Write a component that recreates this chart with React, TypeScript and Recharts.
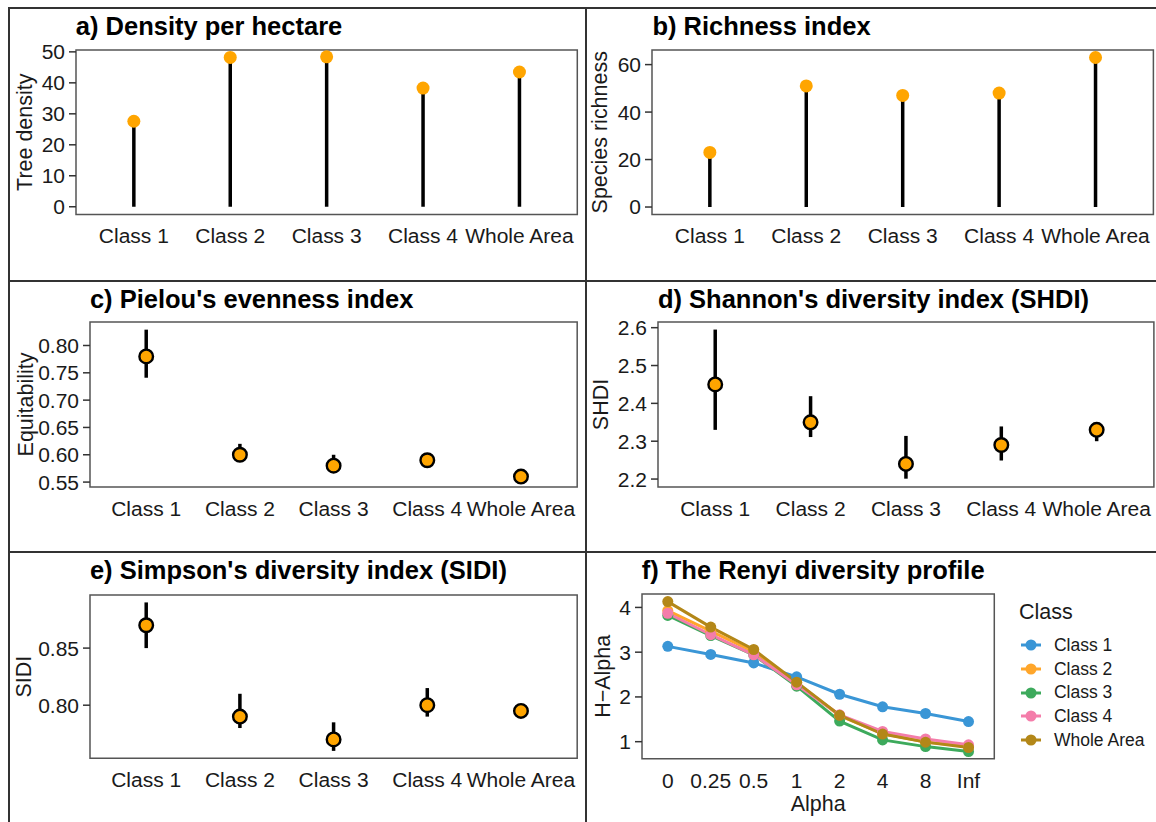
import React from "react";
import {
  ComposedChart,
  Scatter,
  ErrorBar,
  Line,
  XAxis,
  YAxis,
  ReferenceArea,
  Legend,
} from "recharts";

const CLASSES = ["Class 1", "Class 2", "Class 3", "Class 4", "Whole Area"];

const DENSITY = [27.6, 48.2, 48.4, 38.3, 43.5];
const RICHNESS = [23, 51, 47, 48, 63];

const EVEN_MEAN = [0.78, 0.6, 0.58, 0.59, 0.56];
const EVEN_LOW = [0.741, 0.59, 0.568, 0.585, 0.554];
const EVEN_HIGH = [0.829, 0.62, 0.6, 0.595, 0.566];

const SHDI_MEAN = [2.45, 2.35, 2.24, 2.29, 2.33];
const SHDI_LOW = [2.33, 2.311, 2.201, 2.249, 2.3];
const SHDI_HIGH = [2.595, 2.419, 2.314, 2.339, 2.342];

const SIDI_MEAN = [0.87, 0.79, 0.77, 0.8, 0.795];
const SIDI_LOW = [0.85, 0.78, 0.76, 0.79, 0.79];
const SIDI_HIGH = [0.89, 0.81, 0.785, 0.815, 0.8];

const ALPHAS = ["0", "0.25", "0.5", "1", "2", "4", "8", "Inf"];
const RENYI_C1 = [3.13, 2.95, 2.76, 2.45, 2.06, 1.78, 1.63, 1.45];
const RENYI_C2 = [3.93, 3.47, 3.01, 2.31, 1.58, 1.18, 0.99, 0.89];
const RENYI_C3 = [3.82, 3.37, 2.94, 2.24, 1.46, 1.04, 0.89, 0.78];
const RENYI_C4 = [3.87, 3.39, 2.94, 2.27, 1.6, 1.23, 1.06, 0.93];
const RENYI_WA = [4.13, 3.56, 3.06, 2.33, 1.59, 1.17, 0.99, 0.87];

const FONT = '"Liberation Sans", Arial, Helvetica, sans-serif';
const INK = "#1a1a1a";
const ORANGE = "#FFA500";
const FRAME = "#555555";
const SERIES_COLORS = ["#3A96D6", "#FFA62B", "#3DAA5C", "#F47DAA", "#B38718"];

type Box = { x0: number; x1: number; y0: number; y1: number };

const lollipopRows = (vals: number[]) =>
  vals.map((v, k) => ({ i: k + 1, v, err: [v, 0] }));

const intervalRows = (mean: number[], low: number[], high: number[]) =>
  mean.map((v, k) => ({ i: k + 1, v, err: [v - low[k], high[k] - v] }));

const renyiRows = ALPHAS.map((a, k) => ({
  i: k + 1,
  c1: RENYI_C1[k],
  c2: RENYI_C2[k],
  c3: RENYI_C3[k],
  c4: RENYI_C4[k],
  wa: RENYI_WA[k],
}));

function Title({ x, baseline, text }: { x: number; baseline: number; text: string }) {
  return (
    <div
      style={{
        position: "absolute",
        left: x,
        top: baseline - 21.6,
        fontFamily: FONT,
        fontWeight: 700,
        fontSize: 25.5,
        lineHeight: 1,
        color: "#000",
        whiteSpace: "nowrap",
      }}
    >
      {text}
    </div>
  );
}

const rotatedTitle = (text: string, x: number, y: number) => () =>
  (
    <text
      x={x}
      y={y}
      transform={`rotate(-90 ${x} ${y})`}
      textAnchor="middle"
      dominantBaseline="central"
      fontFamily={FONT}
      fontSize={21.5}
      fill={INK}
    >
      {text}
    </text>
  );

const tickStyle = { fontSize: 21, fill: INK, fontFamily: FONT };

interface ClassPanelProps {
  box: Box;
  title: string;
  titleBaseline: number;
  yTitle: string;
  yTitleX: number;
  domain: [number, number];
  ticks: number[];
  digits: number;
  rows: { i: number; v: number; err: number[] }[];
  outlined: boolean;
}

function ClassPanel(p: ClassPanelProps) {
  const yw = 80;
  const left = p.box.x0 - yw;
  const top = p.box.y0 - 10;
  const width = yw + (p.box.x1 - p.box.x0) + 4;
  const height = 10 + (p.box.y1 - p.box.y0) + 50;
  const midY = (p.box.y0 + p.box.y1) / 2 - top;

  return (
    <>
      <Title x={p.box.x0} baseline={p.titleBaseline} text={p.title} />
      <div style={{ position: "absolute", left, top }}>
        <ComposedChart
          width={width}
          height={height}
          data={p.rows}
          margin={{ top: 10, right: 4, bottom: 0, left: 0 }}
        >
          <XAxis
            type="number"
            dataKey="i"
            domain={[0.4, 5.6]}
            ticks={[1, 2, 3, 4, 5]}
            interval={0}
            allowDataOverflow
            tickFormatter={(v) => CLASSES[v - 1]}
            tickLine={false}
            axisLine={false}
            tickSize={0}
            tickMargin={14}
            height={50}
            tick={tickStyle}
          />
          <YAxis
            type="number"
            domain={p.domain}
            ticks={p.ticks}
            interval={0}
            allowDataOverflow
            width={yw}
            tickFormatter={(v) => Number(v).toFixed(p.digits)}
            axisLine={false}
            tickLine={{ stroke: "#333", strokeWidth: 1.5 }}
            tickSize={7}
            tickMargin={4}
            tick={tickStyle}
            label={{ content: rotatedTitle(p.yTitle, p.yTitleX - left, midY) }}
          />
          <ReferenceArea
            x1={0.4}
            x2={5.6}
            y1={p.domain[0]}
            y2={p.domain[1]}
            fill="none"
            stroke={FRAME}
            strokeWidth={1.5}
            fillOpacity={0}
          />
          <Scatter
            dataKey="v"
            isAnimationActive={false}
            shape={(s: any) =>
              p.outlined ? (
                <circle cx={s.cx} cy={s.cy} r={6.8} fill={ORANGE} stroke="#000" strokeWidth={2.4} />
              ) : (
                <circle cx={s.cx} cy={s.cy} r={6.5} fill={ORANGE} />
              )
            }
          >
            <ErrorBar
              dataKey="err"
              direction="y"
              width={0}
              stroke="#000"
              strokeWidth={3.5}
              isAnimationActive={false}
            />
          </Scatter>
        </ComposedChart>
      </div>
    </>
  );
}

const renderLegend = (props: any) => {
  const items = props.payload ?? [];
  return (
    <div style={{ fontFamily: FONT, color: INK }}>
      <div style={{ fontSize: 21.5, lineHeight: "24px", height: 24, marginBottom: 9.5 }}>Class</div>
      {items.map((it: any) => (
        <div key={it.value} style={{ display: "flex", alignItems: "center", height: 23.7 }}>
          <svg width={20} height={14} style={{ marginLeft: 2, marginRight: 13 }}>
            <line x1={0} y1={7} x2={20} y2={7} stroke={it.color} strokeWidth={3} />
            <circle cx={10} cy={7} r={5.5} fill={it.color} />
          </svg>
          <span style={{ fontSize: 17.5, whiteSpace: "nowrap" }}>{it.value}</span>
        </div>
      ))}
    </div>
  );
};

function RenyiPanel() {
  const box: Box = { x0: 641.7, x1: 994, y0: 594.3, y1: 759 };
  const yw = 55;
  const left = box.x0 - yw;
  const top = box.y0 - 10;
  const width = 1156 - left;
  const right = width - yw - (box.x1 - box.x0);
  const height = 10 + (box.y1 - box.y0) + 60;
  const domain: [number, number] = [0.62, 4.3];
  const keys = ["c1", "c2", "c3", "c4", "wa"];
  const names = [...CLASSES];

  return (
    <>
      <Title x={box.x0} baseline={580} text="f) The Renyi diversity profile" />
      <div style={{ position: "absolute", left, top }}>
        <ComposedChart
          width={width}
          height={height}
          data={renyiRows}
          margin={{ top: 10, right, bottom: 0, left: 0 }}
        >
          <XAxis
            type="number"
            dataKey="i"
            domain={[0.4, 8.6]}
            ticks={[1, 2, 3, 4, 5, 6, 7, 8]}
            interval={0}
            allowDataOverflow
            tickFormatter={(v) => ALPHAS[v - 1]}
            tickLine={false}
            axisLine={false}
            tickSize={0}
            tickMargin={14}
            height={60}
            tick={tickStyle}
            label={{
              content: () => (
                <text
                  x={(box.x0 + box.x1) / 2 - left}
                  y={811 - top}
                  textAnchor="middle"
                  fontFamily={FONT}
                  fontSize={21.5}
                  fill={INK}
                >
                  Alpha
                </text>
              ),
            }}
          />
          <YAxis
            type="number"
            domain={domain}
            ticks={[1, 2, 3, 4]}
            interval={0}
            allowDataOverflow
            width={yw}
            axisLine={false}
            tickLine={{ stroke: "#333", strokeWidth: 1.5 }}
            tickSize={7}
            tickMargin={4}
            tick={tickStyle}
            label={{
              content: rotatedTitle("H\u2212Alpha", 602.4 - left, (box.y0 + box.y1) / 2 - top),
            }}
          />
          <ReferenceArea
            x1={0.4}
            x2={8.6}
            y1={domain[0]}
            y2={domain[1]}
            fill="none"
            fillOpacity={0}
            stroke={FRAME}
            strokeWidth={1.5}
          />
          {keys.map((k, idx) => (
            <Line
              key={k}
              type="linear"
              dataKey={k}
              name={names[idx]}
              stroke={SERIES_COLORS[idx]}
              strokeWidth={3}
              dot={{ r: 5.5, fill: SERIES_COLORS[idx], stroke: "none" }}
              activeDot={false}
              isAnimationActive={false}
            />
          ))}
          <Legend
            layout="vertical"
            align="center"
            verticalAlign="middle"
            content={renderLegend}
            wrapperStyle={{ left: 1019 - left, top: 600 - top, width: 135, margin: 0, padding: 0 }}
          />
        </ComposedChart>
      </div>
    </>
  );
}

function Rule({ x, y, w, h }: { x: number; y: number; w: number; h: number }) {
  return <div style={{ position: "absolute", left: x, top: y, width: w, height: h, background: "#333" }} />;
}

export default function App() {
  return (
    <div
      style={{
        position: "absolute",
        left: 0,
        top: 0,
        width: 1156,
        height: 822,
        background: "#fff",
        overflow: "hidden",
      }}
    >
      <Rule x={8} y={7} w={1148} h={2} />
      <Rule x={8} y={7} w={2} h={815} />
      <Rule x={8} y={280} w={1148} h={2} />
      <Rule x={8} y={551} w={1148} h={2} />
      <Rule x={585} y={7} w={2} h={815} />

      <ClassPanel
        box={{ x0: 75.8, x1: 577.1, y0: 49.5, y1: 214 }}
        title="a) Density per hectare"
        titleBaseline={36}
        yTitle="Tree density"
        yTitleX={25}
        domain={[-2.5, 50.6]}
        ticks={[0, 10, 20, 30, 40, 50]}
        digits={0}
        rows={lollipopRows(DENSITY)}
        outlined={false}
      />
      <ClassPanel
        box={{ x0: 652.4, x1: 1153.8, y0: 49.5, y1: 214 }}
        title="b) Richness index"
        titleBaseline={36}
        yTitle="Species richness"
        yTitleX={600.6}
        domain={[-3.15, 66.15]}
        ticks={[0, 20, 40, 60]}
        digits={0}
        rows={lollipopRows(RICHNESS)}
        outlined={false}
      />
      <ClassPanel
        box={{ x0: 89.9, x1: 577.1, y0: 321.7, y1: 486.7 }}
        title="c) Pielou's evenness index"
        titleBaseline={309}
        yTitle="Equitability"
        yTitleX={25.5}
        domain={[0.541, 0.843]}
        ticks={[0.55, 0.6, 0.65, 0.7, 0.75, 0.8]}
        digits={2}
        rows={intervalRows(EVEN_MEAN, EVEN_LOW, EVEN_HIGH)}
        outlined
      />
      <ClassPanel
        box={{ x0: 657.9, x1: 1153.8, y0: 321.7, y1: 486.7 }}
        title="d) Shannon's diversity index (SHDI)"
        titleBaseline={309}
        yTitle="SHDI"
        yTitleX={600.6}
        domain={[2.179, 2.615]}
        ticks={[2.2, 2.3, 2.4, 2.5, 2.6]}
        digits={1}
        rows={intervalRows(SHDI_MEAN, SHDI_LOW, SHDI_HIGH)}
        outlined
      />
      <ClassPanel
        box={{ x0: 89.9, x1: 577.1, y0: 595, y1: 758.3 }}
        title="e) Simpson's diversity index (SIDI)"
        titleBaseline={580}
        yTitle="SIDI"
        yTitleX={24.3}
        domain={[0.7535, 0.8965]}
        ticks={[0.8, 0.85]}
        digits={2}
        rows={intervalRows(SIDI_MEAN, SIDI_LOW, SIDI_HIGH)}
        outlined
      />
      <RenyiPanel />
    </div>
  );
}
